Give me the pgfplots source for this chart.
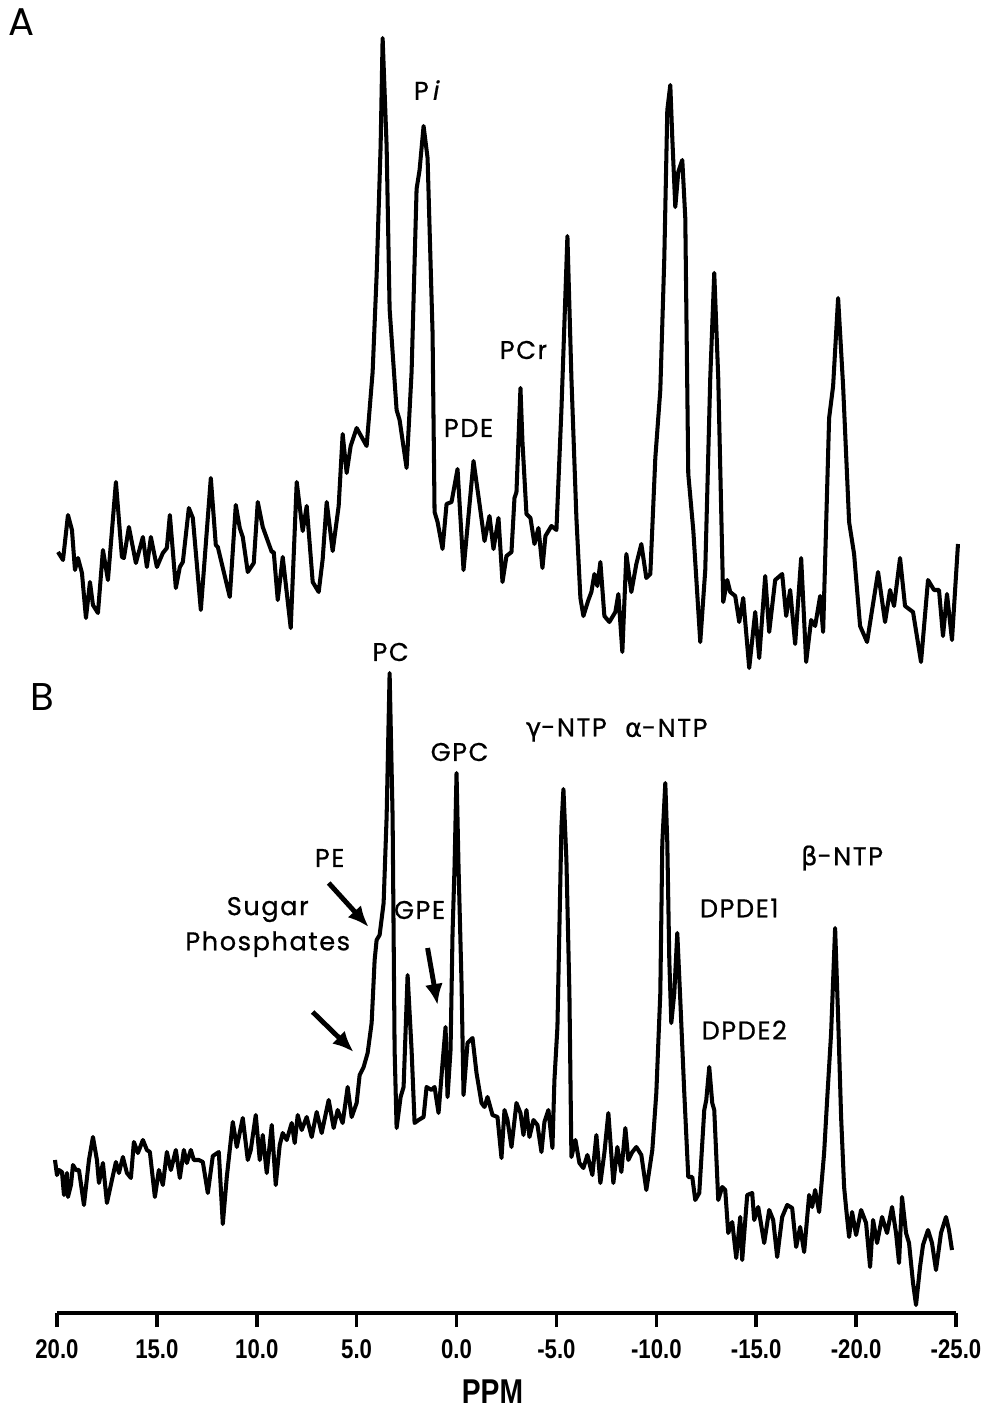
\documentclass[border=0pt]{standalone}
\usepackage{pgfplots}
\pgfplotsset{compat=1.18}
\usepackage{fontspec}
\usetikzlibrary{arrows.meta}
\setmainfont{Poppins}[LetterSpace=6,FakeBold=0.7]
\newfontfamily\plainfont{Poppins}
\newfontfamily\tickfont{Liberation Sans}[FakeStretch=0.82]
\newfontfamily\greek{DejaVu Sans}[FakeBold=0.7]
\newcommand{\lbl}{\fontsize{7.3}{9}\selectfont}
\begin{document}
\begin{tikzpicture}
\useasboundingbox (-0.57,-1.00) rectangle (9.30,13.13);
\begin{axis}[
  at={(0,0)}, anchor=south west, scale only axis,
  width=8.99cm, height=13.13cm,
  xmin=-25, xmax=20, ymin=100, ymax=1413, x dir=reverse,
  axis x line=bottom, axis y line=none,
  x axis line style={-, line width=1.1pt},
  xtick={-25,-20,...,20},
  xticklabels={-25.0,-20.0,-15.0,-10.0,-5.0,0.0,5.0,10.0,15.0,20.0},
  ytick=\empty,
  tick align=outside, major tick length=0.14cm,
  every tick/.style={black, line width=1.0pt},
  xticklabel style={font=\tickfont\bfseries\fontsize{7.7}{9}\selectfont},
  clip=false,
]
% Spectrum A
\addplot[black, line width=1.15pt, line join=round, mark=none] coordinates {
(19.95,861)(19.70,853)(19.45,898)(19.25,883)(19.10,843)(18.95,855)(18.75,840)(18.55,795)(18.35,831)(18.20,808)(17.95,800)(17.70,863)(17.45,833)(17.05,931)(16.75,856)(16.65,855)(16.40,886)(16.05,850)(15.70,876)(15.50,846)(15.30,876)(15.00,846)(14.70,860)(14.50,865)(14.35,898)(14.05,825)(13.85,846)(13.70,851)(13.40,905)(13.20,895)(12.80,803)(12.30,935)(12.05,868)(11.95,866)(11.35,816)(11.05,908)(10.85,885)(10.70,876)(10.45,841)(10.15,850)(9.95,911)(9.70,886)(9.25,861)(9.15,861)(8.95,813)(8.70,856)(8.30,785)(8.00,931)(7.70,882)(7.50,907)(7.20,831)(6.90,821)(6.70,854)(6.50,911)(6.20,862)(5.90,907)(5.70,979)(5.50,940)(5.30,967)(5.00,985)(4.50,967)(4.20,1041)(4.00,1138)(3.80,1267)(3.70,1375)(3.50,1267)(3.35,1104)(3.00,1003)(2.85,993)(2.50,945)(2.25,1041)(2.00,1224)(1.85,1243)(1.65,1287)(1.45,1255)(1.20,1080)(1.10,901)(0.95,891)(0.70,864)(0.50,909)(0.25,911)(-0.05,944)(-0.35,843)(-0.85,952)(-1.15,909)(-1.40,872)(-1.65,897)(-1.85,864)(-2.10,895)(-2.30,831)(-2.50,857)(-2.75,861)(-2.90,915)(-3.00,921)(-3.20,1025)(-3.30,971)(-3.50,899)(-3.70,895)(-3.90,869)(-4.10,885)(-4.30,845)(-4.45,877)(-4.75,887)(-5.00,883)(-5.25,1003)(-5.55,1177)(-5.75,1035)(-6.00,895)(-6.20,815)(-6.35,797)(-6.60,813)(-6.75,821)(-6.90,839)(-7.05,827)(-7.20,851)(-7.40,797)(-7.65,791)(-7.95,801)(-8.10,819)(-8.30,761)(-8.50,859)(-8.75,821)(-9.00,849)(-9.25,869)(-9.50,835)(-9.70,839)(-9.95,955)(-10.20,1023)(-10.40,1155)(-10.55,1303)(-10.70,1328)(-10.80,1275)(-10.95,1206)(-11.10,1241)(-11.30,1253)(-11.45,1195)(-11.60,939)(-11.85,883)(-12.20,771)(-12.45,843)(-12.70,1035)(-12.90,1140)(-13.10,1035)(-13.35,811)(-13.55,833)(-13.70,821)(-13.95,817)(-14.15,791)(-14.35,815)(-14.65,745)(-14.95,801)(-15.15,755)(-15.45,837)(-15.65,781)(-15.95,833)(-16.30,839)(-16.50,797)(-16.70,823)(-16.95,769)(-17.25,855)(-17.50,751)(-17.75,793)(-17.95,787)(-18.20,817)(-18.35,781)(-18.65,995)(-18.85,1027)(-19.10,1115)(-19.35,1027)(-19.65,891)(-19.90,859)(-20.20,787)(-20.55,771)(-20.80,803)(-21.10,841)(-21.45,791)(-21.70,823)(-21.90,807)(-22.20,855)(-22.45,807)(-22.85,801)(-23.25,751)(-23.60,833)(-23.90,823)(-24.15,823)(-24.35,777)(-24.55,819)(-24.80,773)(-25.10,869)
};
% Spectrum B
\addplot[black, line width=1.15pt, line join=round, mark=none] coordinates {
(20.10,253)(20.00,238)(19.90,243)(19.75,241)(19.65,218)(19.50,240)(19.45,216)(19.30,228)(19.20,248)(19.05,243)(18.90,243)(18.65,208)(18.40,253)(18.20,276)(18.00,253)(17.90,230)(17.70,250)(17.50,210)(17.25,233)(17.05,251)(16.90,240)(16.70,256)(16.50,240)(16.30,235)(16.15,271)(15.95,260)(15.70,273)(15.50,263)(15.35,261)(15.10,216)(14.90,243)(14.70,228)(14.50,261)(14.30,243)(14.05,263)(13.85,235)(13.65,263)(13.50,250)(13.30,263)(13.15,253)(12.90,253)(12.70,251)(12.45,220)(12.20,257)(11.90,261)(11.70,189)(11.50,236)(11.20,291)(11.00,266)(10.70,295)(10.45,253)(10.30,263)(10.05,298)(9.85,253)(9.70,278)(9.50,240)(9.25,288)(9.05,228)(8.85,268)(8.70,280)(8.50,273)(8.25,290)(8.10,270)(7.95,298)(7.75,283)(7.50,296)(7.25,276)(7.00,301)(6.75,280)(6.40,313)(6.15,285)(5.95,303)(5.70,290)(5.45,326)(5.25,296)(5.00,310)(4.85,338)(4.65,346)(4.45,360)(4.25,390)(4.10,453)(4.00,473)(3.85,478)(3.65,510)(3.50,596)(3.35,740)(3.20,596)(3.10,363)(3.00,285)(2.80,316)(2.65,326)(2.45,438)(2.25,363)(2.10,290)(1.90,293)(1.65,296)(1.50,326)(1.25,323)(1.10,326)(0.90,300)(0.70,350)(0.55,386)(0.45,316)(0.30,363)(0.20,480)(0.10,546)(0.00,640)(-0.10,546)(-0.25,430)(-0.35,318)(-0.55,370)(-0.80,375)(-1.00,340)(-1.25,310)(-1.40,306)(-1.55,316)(-1.80,298)(-2.05,296)(-2.25,255)(-2.40,303)(-2.55,293)(-2.75,266)(-3.00,310)(-3.20,300)(-3.35,278)(-3.50,303)(-3.65,276)(-3.85,293)(-4.05,288)(-4.25,261)(-4.40,291)(-4.60,303)(-4.80,265)(-4.90,333)(-5.05,386)(-5.25,586)(-5.35,624)(-5.50,553)(-5.65,420)(-5.75,256)(-5.95,273)(-6.15,250)(-6.35,245)(-6.55,258)(-6.80,238)(-7.00,278)(-7.20,230)(-7.40,260)(-7.60,300)(-7.85,230)(-8.05,266)(-8.25,241)(-8.45,285)(-8.60,253)(-8.80,261)(-9.00,266)(-9.25,258)(-9.50,223)(-9.80,263)(-10.00,320)(-10.20,420)(-10.30,570)(-10.45,630)(-10.55,570)(-10.65,453)(-10.75,390)(-10.90,420)(-11.05,480)(-11.20,413)(-11.40,320)(-11.60,236)(-11.80,236)(-11.95,213)(-12.15,220)(-12.40,303)(-12.50,313)(-12.65,346)(-12.80,310)(-12.90,303)(-13.10,213)(-13.30,226)(-13.45,223)(-13.60,180)(-13.80,191)(-14.00,155)(-14.20,196)(-14.30,153)(-14.55,218)(-14.80,220)(-14.90,193)(-15.10,206)(-15.40,170)(-15.65,203)(-15.85,193)(-16.05,156)(-16.30,196)(-16.55,208)(-16.80,205)(-17.00,166)(-17.20,186)(-17.40,161)(-17.65,218)(-17.80,206)(-17.95,223)(-18.15,201)(-18.40,260)(-18.55,313)(-18.75,380)(-18.95,485)(-19.10,396)(-19.25,296)(-19.40,226)(-19.50,205)(-19.65,176)(-19.80,201)(-20.00,178)(-20.25,203)(-20.50,190)(-20.70,146)(-20.85,193)(-21.05,170)(-21.30,196)(-21.55,180)(-21.80,206)(-22.00,180)(-22.15,150)(-22.30,216)(-22.50,180)(-22.65,170)(-22.85,130)(-23.00,108)(-23.20,146)(-23.35,168)(-23.60,183)(-23.80,170)(-24.00,143)(-24.25,180)(-24.50,196)(-24.65,183)(-24.80,163)
};
% labels
\node[font=\plainfont\fontsize{11}{13}\selectfont] at (axis cs:21.75,1391) {A};
\node[font=\plainfont\fontsize{11}{13}\selectfont] at (axis cs:20.75,716) {B};
\node[font=\lbl] at (axis cs:1.45,1323) {P\,\textit{i}};
\node[font=\lbl] at (axis cs:-0.60,985) {PDE};
\node[font=\lbl] at (axis cs:-3.35,1063) {PCr};
\node[font=\lbl] at (axis cs:3.30,761) {PC};
\node[font=\lbl] at (axis cs:-0.15,661) {GPC};
\node[font=\lbl] at (axis cs:-5.50,683) {{\greek γ}-NTP};
\node[font=\lbl] at (axis cs:-10.50,685) {{\greek α}-NTP};
\node[font=\lbl] at (axis cs:6.35,555) {PE};
\node[font=\lbl] at (axis cs:1.85,503) {GPE};
\node[font=\lbl, align=center] at (axis cs:9.45,486) {Sugar\\[1pt]Phosphates};
\node[font=\lbl] at (axis cs:-14.15,505) {DPDE1};
\node[font=\lbl] at (axis cs:-14.40,383) {DPDE2};
\node[font=\lbl] at (axis cs:-19.30,555) {{\greek β}-NTP};
\node[font=\tickfont\bfseries\fontsize{9.8}{11}\selectfont] at (axis cs:-1.80,21) {PPM};
% arrows
\draw[line width=1.4pt, -{Latex[length=2.1mm,width=1.8mm]}] (axis cs:6.40,530) -- (axis cs:4.40,486);
\draw[line width=1.4pt, -{Latex[length=2.1mm,width=1.8mm]}] (axis cs:7.20,401) -- (axis cs:5.15,361);
\draw[line width=1.4pt, -{Latex[length=2.1mm,width=1.8mm]}] (axis cs:1.45,465) -- (axis cs:0.95,408);
\end{axis}
\end{tikzpicture}
\end{document}
